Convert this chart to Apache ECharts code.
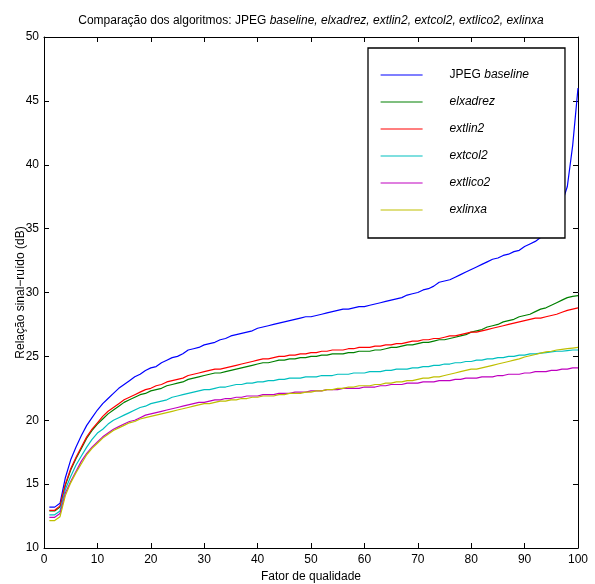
<!DOCTYPE html>
<html>
<head>
<meta charset="utf-8">
<script src="https://cdn.jsdelivr.net/npm/echarts@6/dist/echarts.min.js"></script>
<style>
html,body{margin:0;padding:0;background:#fff;}
#chart{width:595px;height:584px;}
</style>
</head>
<body>
<div id="chart"></div>
<script>
const qualityFactor = [1,2,3,4,5,6,7,8,9,10,11,12,13,14,15,16,17,18,19,20,21,22,23,24,25,26,27,28,29,30,31,32,33,34,35,36,37,38,39,40,41,42,43,44,45,46,47,48,49,50,51,52,53,54,55,56,57,58,59,60,61,62,63,64,65,66,67,68,69,70,71,72,73,74,75,76,77,78,79,80,81,82,83,84,85,86,87,88,89,90,91,92,93,94,95,96,97,98,99,100];

const jpegBaseline = [13.2,13.2,13.5,15.5,16.9,17.9,18.8,19.6,20.2,20.8,21.3,21.7,22.1,22.5,22.8,23.1,23.4,23.6,23.9,24.1,24.2,24.5,24.7,24.9,25.0,25.2,25.5,25.6,25.7,25.9,26.0,26.1,26.3,26.4,26.6,26.7,26.8,26.9,27.0,27.2,27.3,27.4,27.5,27.6,27.7,27.8,27.9,28.0,28.1,28.1,28.2,28.3,28.4,28.5,28.6,28.7,28.7,28.8,28.9,28.9,29.0,29.1,29.2,29.3,29.4,29.5,29.6,29.8,29.9,30.0,30.2,30.3,30.5,30.8,30.9,31.0,31.2,31.4,31.6,31.8,32.0,32.2,32.4,32.6,32.7,32.9,33.0,33.2,33.3,33.6,33.8,34.0,34.3,34.7,35.3,36.0,37.0,38.3,41.5,46.0];
const elxadrez = [12.9,12.9,13.2,14.9,16.1,17.0,17.8,18.6,19.2,19.7,20.1,20.5,20.8,21.1,21.4,21.6,21.8,22.0,22.1,22.3,22.4,22.5,22.7,22.8,22.9,23.0,23.2,23.3,23.4,23.5,23.6,23.7,23.7,23.8,23.9,24.0,24.1,24.2,24.3,24.4,24.5,24.5,24.6,24.7,24.7,24.8,24.8,24.9,24.9,25.0,25.0,25.1,25.1,25.2,25.2,25.2,25.3,25.3,25.4,25.4,25.4,25.5,25.5,25.6,25.7,25.7,25.8,25.9,25.9,26.0,26.1,26.1,26.2,26.3,26.3,26.4,26.5,26.6,26.7,26.9,27.0,27.1,27.3,27.4,27.5,27.7,27.8,27.9,28.1,28.2,28.3,28.5,28.7,28.8,29.0,29.2,29.4,29.6,29.7,29.75];
const extlin2 = [12.95,12.95,13.3,15.0,16.2,17.1,17.9,18.7,19.3,19.8,20.3,20.7,21.0,21.3,21.6,21.8,22.0,22.2,22.4,22.5,22.7,22.8,23.0,23.1,23.2,23.3,23.5,23.6,23.7,23.8,23.9,24.0,24.0,24.1,24.2,24.3,24.4,24.5,24.6,24.7,24.8,24.8,24.9,25.0,25.0,25.1,25.1,25.2,25.2,25.3,25.3,25.4,25.4,25.5,25.5,25.5,25.6,25.6,25.7,25.7,25.7,25.8,25.8,25.9,25.9,26.0,26.0,26.1,26.2,26.2,26.3,26.3,26.4,26.4,26.5,26.6,26.6,26.7,26.8,26.9,26.9,27.0,27.1,27.2,27.3,27.4,27.5,27.6,27.7,27.8,27.9,28.0,28.0,28.1,28.2,28.3,28.45,28.6,28.7,28.8];
const extcol2 = [12.6,12.6,12.9,14.6,15.6,16.5,17.2,17.9,18.5,19.0,19.3,19.7,20.0,20.2,20.4,20.6,20.8,21.0,21.1,21.3,21.4,21.5,21.6,21.8,21.9,22.0,22.1,22.2,22.3,22.4,22.4,22.5,22.6,22.6,22.7,22.8,22.8,22.9,22.9,23.0,23.0,23.1,23.1,23.2,23.2,23.3,23.3,23.3,23.4,23.4,23.4,23.5,23.5,23.5,23.6,23.6,23.6,23.7,23.7,23.7,23.8,23.8,23.8,23.9,23.9,24.0,24.0,24.0,24.1,24.1,24.2,24.2,24.3,24.3,24.4,24.4,24.5,24.5,24.6,24.6,24.7,24.7,24.8,24.8,24.9,24.9,25.0,25.0,25.1,25.1,25.2,25.2,25.25,25.3,25.35,25.4,25.4,25.45,25.5,25.5];
const extlico2 = [12.4,12.4,12.7,14.3,15.2,16.0,16.8,17.4,17.9,18.3,18.7,19.0,19.3,19.5,19.7,19.9,20.0,20.2,20.4,20.5,20.6,20.7,20.8,20.9,21.0,21.1,21.2,21.3,21.4,21.4,21.5,21.6,21.6,21.7,21.7,21.8,21.8,21.9,21.9,21.9,22.0,22.0,22.0,22.1,22.1,22.1,22.2,22.2,22.2,22.3,22.3,22.3,22.4,22.4,22.4,22.5,22.5,22.5,22.5,22.6,22.6,22.6,22.7,22.7,22.8,22.8,22.8,22.9,22.9,22.9,23.0,23.0,23.0,23.1,23.1,23.1,23.2,23.2,23.3,23.3,23.3,23.4,23.4,23.4,23.5,23.5,23.6,23.6,23.6,23.7,23.7,23.8,23.8,23.8,23.9,23.9,24.0,24.0,24.1,24.1];
const exlinxa = [12.15,12.15,12.45,14.1,15.1,15.9,16.6,17.3,17.8,18.2,18.6,18.9,19.2,19.4,19.6,19.8,19.9,20.1,20.2,20.3,20.4,20.5,20.6,20.7,20.8,20.9,21.0,21.1,21.2,21.3,21.3,21.4,21.5,21.5,21.6,21.6,21.7,21.7,21.8,21.8,21.9,21.9,21.9,22.0,22.0,22.1,22.1,22.1,22.2,22.2,22.3,22.3,22.4,22.4,22.5,22.5,22.6,22.6,22.7,22.7,22.7,22.8,22.8,22.9,22.9,23.0,23.0,23.1,23.1,23.2,23.3,23.3,23.4,23.4,23.5,23.6,23.7,23.8,23.9,24.0,24.0,24.1,24.2,24.3,24.4,24.5,24.6,24.7,24.8,24.95,25.05,25.15,25.25,25.35,25.4,25.5,25.55,25.6,25.65,25.7];

const seriesNames = ['JPEG baseline','elxadrez','extlin2','extcol2','extlico2','exlinxa'];
const seriesValues = [jpegBaseline, elxadrez, extlin2, extcol2, extlico2, exlinxa];
const seriesColors = ['#0000ff','#008000','#ff0000','#00bfbf','#bf00bf','#bfbf00'];

const xTicks = [0,10,20,30,40,50,60,70,80,90,100];
const yTicks = [10,15,20,25,30,35,40,45,50];

const FONT = '"Liberation Sans", Arial, Helvetica, sans-serif';
const chart = echarts.init(document.getElementById('chart'), null, {renderer:'canvas'});

const baseAxis = {
  axisLine:{show:true, onZero:false, lineStyle:{color:'#000', width:1}},
  axisTick:{show:true, inside:true, length:5, lineStyle:{color:'#000', width:1}},
  splitLine:{show:false},
};

const option = {
  backgroundColor:'#fff',
  animation:false,
  title:{
    text:'{n|Comparação dos algoritmos: JPEG }{i|baseline, elxadrez, extlin2, extcol2, extlico2, exlinxa}',
    left:306, top:10, textAlign:'center',
    textStyle:{
      fontFamily:FONT, fontSize:12, fontWeight:'normal', color:'#000',
      rich:{
        n:{fontFamily:FONT, fontSize:12, color:'#000'},
        i:{fontFamily:FONT, fontSize:12, fontStyle:'italic', color:'#000'}
      }
    }
  },
  grid:{left:44, top:37, width:534, height:511, containLabel:false, outerBoundsMode:'none'},
  legend:{
    orient:'vertical', left:368, top:48,
    padding:[21,36,22,12], itemGap:15, itemWidth:42, itemHeight:14,
    backgroundColor:'#fff', borderColor:'#000', borderWidth:1.3, borderRadius:0,
    itemStyle:{opacity:0},
    lineStyle:{width:1.2},
    data:seriesNames,
    formatter:function(name){
      if(name === 'JPEG baseline') return '{n|JPEG }{i|baseline}';
      return '{i|' + name + '}';
    },
    textStyle:{
      fontFamily:FONT, fontSize:12, color:'#000', padding:[0,0,0,22],
      rich:{
        n:{fontFamily:FONT, fontSize:12, color:'#000'},
        i:{fontFamily:FONT, fontSize:12, fontStyle:'italic', color:'#000'}
      }
    }
  },
  xAxis:[
    Object.assign({}, baseAxis, {
      type:'value', min:0, max:100, interval:10, position:'bottom',
      name:'Fator de qualidade', nameLocation:'middle', nameGap:23, nameMoveOverlap:false,
      nameTextStyle:{fontFamily:FONT, fontSize:12, color:'#000'},
      axisLabel:{show:true, margin:6, fontFamily:FONT, fontSize:12, color:'#000',
        formatter:function(v){return xTicks.indexOf(v) >= 0 ? String(v) : '';}}
    }),
    Object.assign({}, baseAxis, {
      type:'value', min:0, max:100, interval:10, position:'top',
      axisLabel:{show:false}
    })
  ],
  yAxis:[
    Object.assign({}, baseAxis, {
      type:'value', min:10, max:50, interval:5, position:'left',
      name:'Relação sinal−ruído (dB)', nameLocation:'middle', nameGap:17, nameMoveOverlap:false,
      nameTextStyle:{fontFamily:FONT, fontSize:12, color:'#000'},
      axisLabel:{show:true, margin:5, fontFamily:FONT, fontSize:12, color:'#000',
        formatter:function(v){return yTicks.indexOf(v) >= 0 ? String(v) : '';}}
    }),
    Object.assign({}, baseAxis, {
      type:'value', min:10, max:50, interval:5, position:'right',
      axisLabel:{show:false}
    })
  ],
  series: seriesNames.map(function(name, k){
    return {
      name:name, type:'line', xAxisIndex:0, yAxisIndex:0,
      symbol:'none', smooth:false, z:2,
      lineStyle:{color:seriesColors[k], width:1.2},
      itemStyle:{color:seriesColors[k]},
      data: qualityFactor.map(function(x, i){ return [x, seriesValues[k][i]]; })
    };
  })
};
chart.setOption(option);
</script>
</body>
</html>
